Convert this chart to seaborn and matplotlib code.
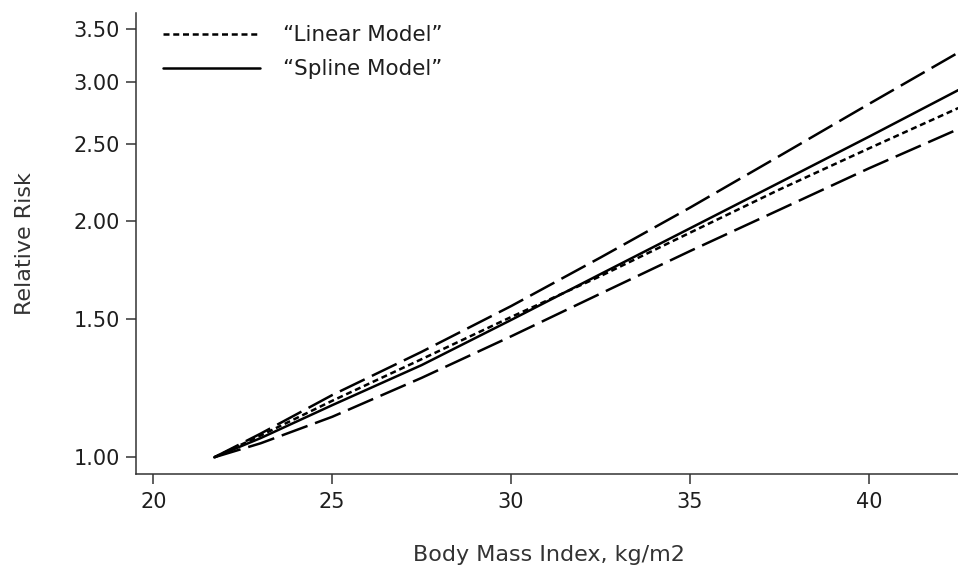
import matplotlib
matplotlib.use("Agg")
import matplotlib.pyplot as plt
import seaborn as sns
import pandas as pd
from matplotlib.ticker import FixedLocator, NullLocator, FormatStrFormatter

# --- DATA ---
bmi = [21.7, 23.0, 25.0, 27.5, 30.0, 32.5, 35.0, 37.5, 40.0, 42.5]
rr_linear = [1.00, 1.066, 1.180, 1.333, 1.508, 1.700, 1.930, 2.190, 2.470, 2.780]
rr_spline = [1.00, 1.058, 1.165, 1.310, 1.495, 1.710, 1.955, 2.235, 2.556, 2.930]
rr_upper = [1.00, 1.072, 1.200, 1.362, 1.557, 1.795, 2.077, 2.416, 2.813, 3.270]
rr_lower = [1.00, 1.042, 1.126, 1.262, 1.425, 1.615, 1.829, 2.064, 2.330, 2.614]
y_ticks = [1.00, 1.50, 2.00, 2.50, 3.00, 3.50]
x_ticks = [20, 25, 30, 35, 40]

df = pd.DataFrame({"bmi": bmi, "linear": rr_linear, "spline": rr_spline,
                   "upper": rr_upper, "lower": rr_lower})

sns.set_style("ticks")
plt.rcParams['font.family'] = ['DejaVu Sans']

fig = plt.figure(figsize=(9.58, 5.66), dpi=100)
ax = fig.add_axes([0.142, 0.1634, 0.862, 0.8136])

lw = 1.8
long_dash = (0, (11, 3.2))
short_dash = (0, (2.4, 1.5))

sns.lineplot(data=df, x="bmi", y="upper", ax=ax, color="black", lw=lw, linestyle=long_dash)
sns.lineplot(data=df, x="bmi", y="lower", ax=ax, color="black", lw=lw, linestyle=long_dash)
sns.lineplot(data=df, x="bmi", y="linear", ax=ax, color="black", lw=lw, linestyle=short_dash,
             label="\u201cLinear Model\u201d")
sns.lineplot(data=df, x="bmi", y="spline", ax=ax, color="black", lw=lw, linestyle="-",
             label="\u201cSpline Model\u201d")

ax.set_yscale("log")
ax.set_xlim(19.515, 42.6)
ax.set_ylim(0.9537, 3.672)
ax.yaxis.set_major_locator(FixedLocator(y_ticks))
ax.yaxis.set_major_formatter(FormatStrFormatter("%.2f"))
ax.yaxis.set_minor_locator(NullLocator())
ax.set_xticks(x_ticks)

text_color = "#1e1e1e"
ax.tick_params(axis="both", labelsize=15, length=7, width=1.1, color="#333333",
               labelcolor=text_color)
ax.tick_params(axis="y", pad=4.5)
ax.tick_params(axis="x", pad=6)
ax.set_xlabel("Body Mass Index, kg/m2", fontsize=16, color="#333333", labelpad=24)
ax.set_ylabel("Relative Risk", fontsize=16, color="#333333", labelpad=28)

sns.despine(ax=ax)
for side in ["left", "bottom"]:
    ax.spines[side].set_linewidth(1.1)
    ax.spines[side].set_color("#333333")

ax.legend(loc="upper left", bbox_to_anchor=(0.022, 0.992), frameon=False, fontsize=15.5,
          handlelength=4.5, handletextpad=1.07, labelspacing=0.65, borderpad=0.4,
          borderaxespad=0, labelcolor=text_color)

fig.savefig("out.png", dpi=100)
